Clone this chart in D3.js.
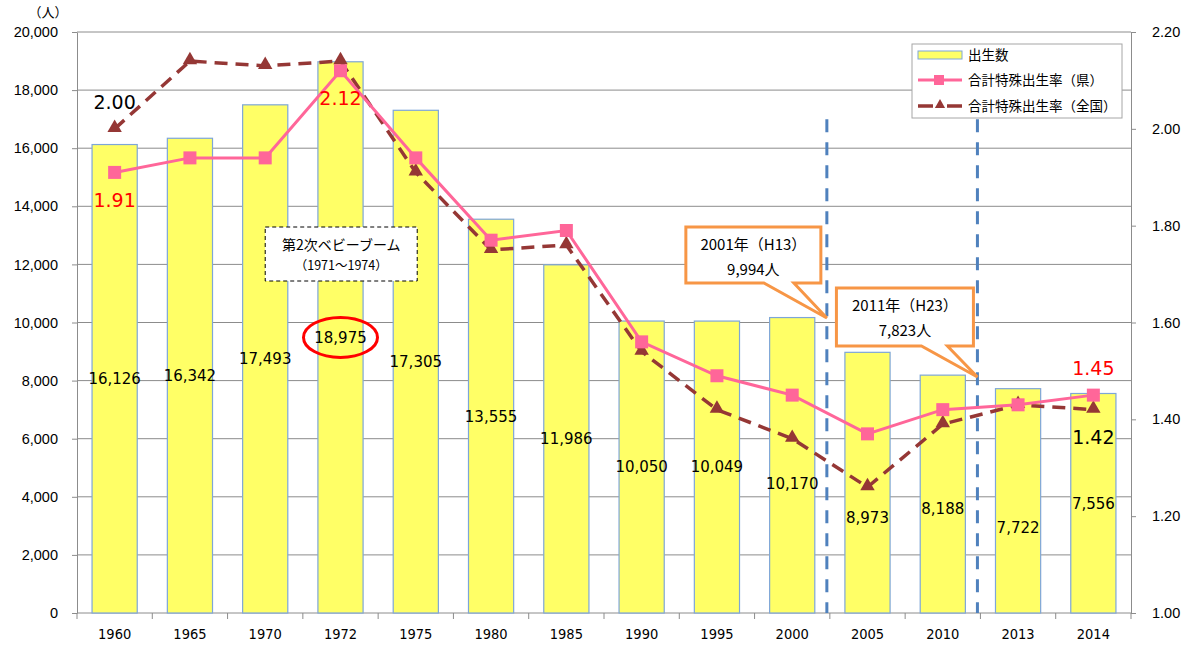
<!DOCTYPE html>
<html>
<head>
<meta charset="utf-8">
<script src="https://cdn.jsdelivr.net/npm/d3@7"></script>
<style>
  body { margin: 0; background: #fff; }
  svg { display: block; font-family: "DejaVu Sans", sans-serif; }
  .jp { font-family: "Noto Sans CJK JP", sans-serif; }
</style>
</head>
<body>
<div id="chart"></div>
<script>
// Data
const years = ["1960", "1965", "1970", "1972", "1975", "1980", "1985", "1990", "1995", "2000", "2005", "2010", "2013", "2014"];
const births = [16126, 16342, 17493, 18975, 17305, 13555, 11986, 10050, 10049, 10170, 8973, 8188, 7722, 7556];
const rateKen = [1.91, 1.94, 1.94, 2.12, 1.94, 1.77, 1.79, 1.56, 1.49, 1.45, 1.37, 1.42, 1.43, 1.45];
const rateZenkoku = [2.00, 2.14, 2.13, 2.14, 1.91, 1.75, 1.76, 1.54, 1.42, 1.36, 1.26, 1.39, 1.43, 1.42];
const leftTicks = [0, 2000, 4000, 6000, 8000, 10000, 12000, 14000, 16000, 18000, 20000];
const rightTicks = [1.00, 1.20, 1.40, 1.60, 1.80, 2.00, 2.20];
const legendLabels = ["出生数", "合計特殊出生率（県）", "合計特殊出生率（全国）"];

const drawChart = () => {

  /*******************************/
  /*    Declare the constants    */
  /*******************************/
  const width = 1198;
  const height = 648;
  const margin = {top: 32, right: 67, bottom: 35, left: 77};
  const innerWidth = width - margin.left - margin.right;
  const innerHeight = height - margin.top - margin.bottom;

  const barFill = "#FFFF66";
  const barStroke = "#7EA6D8";
  const pink = "#FF6699";
  const brown = "#953735";
  const gridColor = "#8C8C8C";
  const orange = "#F79646";
  const blue = "#4F81BD";

  const svg = d3.select("#chart")
    .append("svg")
      .attr("width", width)
      .attr("height", height);

  const inner = svg
    .append("g")
      .attr("transform", `translate(${margin.left}, ${margin.top})`);

  /****************************/
  /*    Declare the scales    */
  /****************************/
  const pad = 0.4;
  const xScale = d3.scaleBand()
    .domain(years)
    .range([0, innerWidth])
    .paddingInner(pad)
    .paddingOuter(pad / 2);
  const step = xScale.step();
  const boundary = i => i * step;   // left edge of category i's slot
  const cx = y => xScale(y) + xScale.bandwidth() / 2;

  const yL = d3.scaleLinear().domain([0, 20000]).range([innerHeight, 0]);
  const yR = d3.scaleLinear().domain([1.0, 2.2]).range([innerHeight, 0]);

  /**************************/
  /*      Grid and axes     */
  /**************************/
  inner.append("g")
    .selectAll("line")
    .data(leftTicks.filter(d => d > 0))
    .join("line")
      .attr("x1", 0)
      .attr("x2", innerWidth)
      .attr("y1", d => yL(d))
      .attr("y2", d => yL(d))
      .attr("stroke", gridColor)
      .attr("stroke-width", 1);

  const leftAxis = d3.axisLeft(yL)
    .tickValues(leftTicks)
    .tickFormat(d3.format(","))
    .tickSize(5)
    .tickPadding(14)
    .tickSizeOuter(0);
  const gl = inner.append("g").call(leftAxis);
  gl.selectAll("text").attr("font-size", 14.5).attr("fill", "#000");

  const rightAxis = d3.axisRight(yR)
    .tickValues(rightTicks)
    .tickFormat(d3.format(".2f"))
    .tickSize(5)
    .tickPadding(16)
    .tickSizeOuter(0);
  const gr = inner.append("g")
    .attr("transform", `translate(${innerWidth}, 0)`)
    .call(rightAxis);
  gr.selectAll("text").attr("font-size", 14.5).attr("fill", "#000");

  const bottomAxis = d3.axisBottom(xScale)
    .tickSize(0)
    .tickPadding(16);
  const gb = inner.append("g")
    .attr("transform", `translate(0, ${innerHeight})`)
    .call(bottomAxis);
  gb.select(".domain").remove();
  gb.selectAll("text")
    .attr("font-family", "'DejaVu Sans Condensed', sans-serif")
    .attr("font-size", 14.5)
    .attr("fill", "#000");

  // category separators on the bottom axis
  inner.append("g")
    .selectAll("line")
    .data(d3.range(years.length + 1))
    .join("line")
      .attr("x1", d => boundary(d))
      .attr("x2", d => boundary(d))
      .attr("y1", innerHeight)
      .attr("y2", innerHeight + 6)
      .attr("stroke", gridColor);

  [gl, gr].forEach(g => g.selectAll("line, path").attr("stroke", gridColor));
  inner.append("line")
    .attr("x1", 0).attr("x2", innerWidth)
    .attr("y1", innerHeight).attr("y2", innerHeight)
    .attr("stroke", gridColor);

  svg.append("text")
    .attr("class", "jp")
    .attr("x", 48)
    .attr("y", 17)
    .attr("text-anchor", "middle")
    .attr("font-size", 13)
    .text("（人）");

  /**************************/
  /*        The bars        */
  /**************************/
  const data = years.map((y, i) => ({year: y, births: births[i], ken: rateKen[i], zen: rateZenkoku[i]}));

  inner.selectAll(".bar")
    .data(data)
    .join("rect")
      .attr("class", "bar")
      .attr("x", d => xScale(d.year))
      .attr("y", d => yL(d.births))
      .attr("width", xScale.bandwidth())
      .attr("height", d => yL(0) - yL(d.births))
      .attr("fill", barFill)
      .attr("stroke", barStroke)
      .attr("stroke-width", 1.2);

  // vertical dashed markers at 2001 and 2011
  const markerX = i => boundary(i) - 3;
  [10, 12].forEach(i => {
    inner.append("line")
      .attr("x1", markerX(i))
      .attr("x2", markerX(i))
      .attr("y1", yL(17000))
      .attr("y2", innerHeight)
      .attr("stroke", blue)
      .attr("stroke-width", 3)
      .attr("stroke-dasharray", "13,10");
  });

  // bar value labels (some were nudged down in the original)
  const labelNudge = [0, 0, 0, 0, 0, 0, 0, 0, 0, 18, 35, 15, 27, 0];
  inner.selectAll(".bar-label")
    .data(data)
    .join("text")
      .attr("class", "bar-label")
      .attr("x", d => cx(d.year))
      .attr("y", (d, i) => (yL(d.births) + yL(0)) / 2 + labelNudge[i])
      .attr("dy", "0.36em")
      .attr("text-anchor", "middle")
      .attr("font-size", 15)
      .text(d => d3.format(",")(d.births));

  /**************************/
  /*        The lines       */
  /**************************/
  const lineZen = d3.line().x(d => cx(d.year)).y(d => yR(d.zen));
  inner.append("path")
    .datum(data)
    .attr("d", lineZen)
    .attr("fill", "none")
    .attr("stroke", brown)
    .attr("stroke-width", 3.5)
    .attr("stroke-dasharray", "13,8");

  const tri = d3.symbol().type(d3.symbolTriangle).size(90);
  inner.selectAll(".tri")
    .data(data)
    .join("path")
      .attr("class", "tri")
      .attr("transform", d => `translate(${cx(d.year)}, ${yR(d.zen) - 1})`)
      .attr("d", tri)
      .attr("fill", brown);

  const lineKen = d3.line().x(d => cx(d.year)).y(d => yR(d.ken));
  inner.append("path")
    .datum(data)
    .attr("d", lineKen)
    .attr("fill", "none")
    .attr("stroke", pink)
    .attr("stroke-width", 3);

  inner.selectAll(".sq")
    .data(data)
    .join("rect")
      .attr("class", "sq")
      .attr("x", d => cx(d.year) - 6.5)
      .attr("y", d => yR(d.ken) - 6.5)
      .attr("width", 13)
      .attr("height", 13)
      .attr("fill", pink);

  /**************************/
  /*    Value annotations   */
  /**************************/
  const valueNotes = [
    {i: 0, v: rateZenkoku[0], color: "#000", dy: -27},
    {i: 0, v: rateKen[0], color: "#FF0000", dy: 28},
    {i: 3, v: rateKen[3], color: "#FF0000", dy: 27},
    {i: 13, v: rateKen[13], color: "#FF0000", dy: -27},
    {i: 13, v: rateZenkoku[13], color: "#000", dy: 28}
  ];
  inner.selectAll(".vnote")
    .data(valueNotes)
    .join("text")
      .attr("class", "vnote")
      .attr("x", d => cx(years[d.i]))
      .attr("y", d => yR(d.v) + d.dy)
      .attr("dy", "0.36em")
      .attr("text-anchor", "middle")
      .attr("font-size", 19)
      .attr("fill", d => d.color)
      .text(d => d3.format(".2f")(d.v));

  // red ellipse around the 1972 value
  inner.append("ellipse")
    .attr("cx", cx("1972"))
    .attr("cy", (yL(births[3]) + yL(0)) / 2)
    .attr("rx", 37)
    .attr("ry", 20)
    .attr("fill", "none")
    .attr("stroke", "#FF0000")
    .attr("stroke-width", 3);

  /**************************/
  /*    Text annotations    */
  /**************************/
  // baby boom box
  const bx = cx("1970"), by = 195, bw = 152, bh = 54;
  inner.append("rect")
    .attr("x", bx).attr("y", by)
    .attr("width", bw).attr("height", bh)
    .attr("fill", "#fff")
    .attr("stroke", "#000")
    .attr("stroke-width", 1)
    .attr("stroke-dasharray", "4,3");
  inner.append("text")
    .attr("class", "jp")
    .attr("x", bx + bw / 2).attr("y", by + 18)
    .attr("dy", "0.36em")
    .attr("text-anchor", "middle")
    .attr("font-size", 14)
    .text("第2次ベビーブーム");
  inner.append("text")
    .attr("class", "jp")
    .attr("x", bx + bw / 2).attr("y", by + 38)
    .attr("dy", "0.36em")
    .attr("text-anchor", "middle")
    .attr("font-size", 12.5)
    .text("（1971～1974）");

  // callouts
  const callouts = [
    {lineIdx: 10, x0: -141, y0: 195, w: 135, h: 56, tail: [-63, -33], tipY: 286, lines: ["2001年（H13）", "9,994人"]},
    {lineIdx: 12, x0: -141, y0: 256, w: 137, h: 58, tail: [-56, -30], tipY: 345, lines: ["2011年（H23）", "7,823人"]}
  ];
  callouts.forEach(c => {
    const lx = markerX(c.lineIdx);
    const left = lx + c.x0, right = left + c.w, top = c.y0, bottom = top + c.h;
    const path = d3.path();
    path.moveTo(left, top);
    path.lineTo(right, top);
    path.lineTo(right, bottom);
    path.lineTo(lx + c.tail[1], bottom);
    path.lineTo(lx, c.tipY);
    path.lineTo(lx + c.tail[0], bottom);
    path.lineTo(left, bottom);
    path.closePath();
    inner.append("path")
      .attr("d", path.toString())
      .attr("fill", "#fff")
      .attr("stroke", orange)
      .attr("stroke-width", 3)
      .attr("stroke-linejoin", "miter");
    c.lines.forEach((t, k) => {
      inner.append("text")
        .attr("class", "jp")
        .attr("x", left + c.w / 2)
        .attr("y", top + 18 + k * 25)
        .attr("dy", "0.36em")
        .attr("text-anchor", "middle")
        .attr("font-size", 15)
        .text(t);
    });
  });

  /**************************/
  /*         Legend         */
  /**************************/
  const legend = svg.append("g").attr("transform", "translate(912, 44)");
  legend.append("rect")
    .attr("width", 210).attr("height", 74)
    .attr("fill", "#fff")
    .attr("stroke", "#A6A6A6");
  const rowY = [11, 36, 62];
  legend.append("rect")
    .attr("x", 6).attr("y", rowY[0] - 4)
    .attr("width", 44).attr("height", 8)
    .attr("fill", barFill).attr("stroke", barStroke);
  legend.append("line")
    .attr("x1", 6).attr("x2", 50)
    .attr("y1", rowY[1]).attr("y2", rowY[1])
    .attr("stroke", pink).attr("stroke-width", 3);
  legend.append("rect")
    .attr("x", 22).attr("y", rowY[1] - 5)
    .attr("width", 10).attr("height", 10)
    .attr("fill", pink);
  legend.append("line")
    .attr("x1", 6).attr("x2", 50)
    .attr("y1", rowY[2]).attr("y2", rowY[2])
    .attr("stroke", brown).attr("stroke-width", 3.5)
    .attr("stroke-dasharray", "15,14");
  legend.append("path")
    .attr("transform", `translate(28, ${rowY[2] - 1})`)
    .attr("d", d3.symbol().type(d3.symbolTriangle).size(45))
    .attr("fill", brown);
  legend.selectAll(".lg")
    .data(legendLabels)
    .join("text")
      .attr("class", "jp")
      .attr("x", 56)
      .attr("y", (d, i) => rowY[i])
      .attr("dy", "0.36em")
      .attr("font-size", 13.5)
      .text(d => d);
};

drawChart();
</script>
</body>
</html>
